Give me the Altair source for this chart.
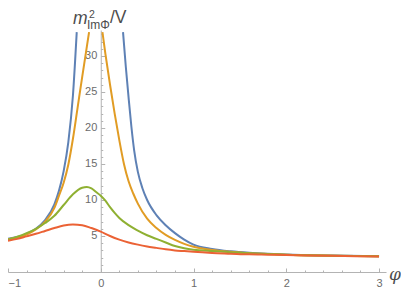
import altair as alt
import pandas as pd

# ---------------- data ----------------
series_names = ["s1", "s2", "s3", "s4"]
series_colors = ["#5E81B5", "#E19C24", "#8FB032", "#EB6235"]

blue_left_x = [-1.0, -0.9, -0.8, -0.7, -0.6, -0.5, -0.45, -0.4, -0.35, -0.3, -0.259]
blue_left_y = [4.6, 4.85, 5.3, 6.0, 7.2, 9.4, 11.3, 14.0, 18.0, 24.5, 33.3]
blue_right_x = [0.24, 0.27, 0.3, 0.33, 0.36, 0.4, 0.45, 0.5, 0.6, 0.7, 0.8, 0.9, 1.0, 1.2, 1.4, 1.6, 1.8, 2.0, 2.5, 3.0]
blue_right_y = [33.3, 28.5, 24.2, 20.2, 16.9, 13.9, 11.6, 10.0, 7.9, 6.5, 5.4, 4.5, 3.8, 3.2, 2.87, 2.66, 2.52, 2.42, 2.28, 2.18]

orange_left_x = [-1.0, -0.9, -0.8, -0.7, -0.6, -0.5, -0.45, -0.4, -0.35, -0.3, -0.25, -0.2, -0.15, -0.126]
orange_left_y = [4.55, 4.8, 5.2, 5.9, 7.0, 8.9, 10.6, 12.4, 14.9, 18.5, 22.8, 27.1, 31.3, 33.3]
orange_right_x = [0.018, 0.05, 0.1, 0.15, 0.2, 0.25, 0.3, 0.35, 0.4, 0.5, 0.6, 0.7, 0.8, 0.9, 1.0, 1.2, 1.4, 1.6, 1.8, 2.0, 2.5, 3.0]
orange_right_y = [33.3, 30.3, 26.0, 22.0, 18.3, 15.0, 12.6, 10.9, 9.5, 7.4, 6.1, 5.15, 4.45, 3.9, 3.5, 3.05, 2.8, 2.62, 2.5, 2.4, 2.27, 2.18]

green_x = [-1.0, -0.9, -0.8, -0.7, -0.6, -0.5, -0.4, -0.3, -0.2, -0.15, -0.1, -0.05, 0.0, 0.05, 0.1, 0.15, 0.2, 0.3, 0.4, 0.5, 0.6, 0.7, 0.8, 0.9, 1.0, 1.2, 1.4, 1.6, 1.8, 2.0, 2.5, 3.0]
green_y = [4.5, 4.9, 5.4, 6.0, 6.8, 7.8, 9.3, 10.8, 11.7, 11.8, 11.6, 11.1, 10.6, 9.9, 9.0, 8.2, 7.5, 6.5, 5.75, 5.1, 4.6, 4.1, 3.6, 3.3, 3.1, 2.9, 2.75, 2.6, 2.5, 2.4, 2.27, 2.18]

red_x = [-1.0, -0.9, -0.8, -0.7, -0.6, -0.5, -0.4, -0.3, -0.2, -0.1, 0.0, 0.1, 0.2, 0.3, 0.4, 0.5, 0.6, 0.7, 0.8, 0.9, 1.0, 1.2, 1.4, 1.6, 1.8, 2.0, 2.5, 3.0]
red_y = [4.35, 4.6, 4.95, 5.3, 5.7, 6.1, 6.45, 6.6, 6.5, 6.1, 5.6, 5.0, 4.5, 4.1, 3.8, 3.55, 3.35, 3.15, 3.0, 2.9, 2.8, 2.65, 2.55, 2.45, 2.4, 2.35, 2.25, 2.15]

x_major = [-1, 0, 1, 2, 3]
x_minor = [-0.8, -0.6, -0.4, -0.2, 0.2, 0.4, 0.6, 0.8, 1.2, 1.4, 1.6, 1.8, 2.2, 2.4, 2.6, 2.8]
y_major = [5, 10, 15, 20, 25, 30]
y_minor = [1, 2, 3, 4, 6, 7, 8, 9, 11, 12, 13, 14, 16, 17, 18, 19, 21, 22, 23, 24, 26, 27, 28, 29, 31, 32, 33]

x_domain = [-1, 3.075]
y_domain = [0, 33.6]

# ---------------- build table ----------------
rows = []
def add(series, seg, xs, ys):
    for i, (a, b) in enumerate(zip(xs, ys)):
        rows.append({"series": series, "seg": seg, "x": a, "y": b, "i": i})

add("s1", "s1a", blue_left_x, blue_left_y)
add("s1", "s1b", blue_right_x, blue_right_y)
add("s2", "s2a", orange_left_x, orange_left_y)
add("s2", "s2b", orange_right_x, orange_right_y)
add("s3", "s3a", green_x, green_y)
add("s4", "s4a", red_x, red_y)
df = pd.DataFrame(rows)

W, H = 378, 242
x0_px = (0 - x_domain[0]) / (x_domain[1] - x_domain[0]) * W  # pixel position of x = 0

axis_color = "#b3b3b3"
label_color = "#6b6b6b"
title_color = "#4d4d4d"
font = "Liberation Sans"

xs = alt.Scale(domain=x_domain, nice=False, zero=False)
ys = alt.Scale(domain=y_domain, nice=False)

base = alt.Chart(df)

lines = base.mark_line(strokeWidth=2, interpolate="monotone").encode(
    x=alt.X("x:Q", scale=xs, axis=alt.Axis(
        orient="bottom", values=x_major, format="d", title=None, grid=False,
        ticks=False, tickSize=0, domain=True, domainColor=axis_color, domainWidth=1,
        labelColor=label_color, labelFont=font, labelFontSize=11, labelPadding=5)),
    y=alt.Y("y:Q", scale=ys, axis=alt.Axis(
        orient="left", offset=-x0_px, values=y_major, format="d", title=None, grid=False,
        ticks=False, tickSize=0, domain=True, domainColor=axis_color, domainWidth=1,
        labelColor=label_color, labelFont=font, labelFontSize=11, labelPadding=4)),
    color=alt.Color("series:N", scale=alt.Scale(domain=series_names, range=series_colors), legend=None),
    detail="seg:N",
    order="i:Q",
)

def tick_layer(xv, yv, size):
    return base.mark_point(opacity=0).encode(
        x=alt.X("x:Q", scale=xs, axis=alt.Axis(
            orient="top", offset=-H, values=xv, labels=False, domain=False, grid=False,
            ticks=True, tickSize=size, tickColor=axis_color, tickWidth=1, title=None)),
        y=alt.Y("y:Q", scale=ys, axis=alt.Axis(
            orient="right", offset=-(W - x0_px), values=yv, labels=False, domain=False, grid=False,
            ticks=True, tickSize=size, tickColor=axis_color, tickWidth=1, title=None)),
    )

major_ticks = tick_layer(x_major, y_major, 4)
minor_ticks = tick_layer(x_minor, y_minor, 2)

one = pd.DataFrame({"k": [0]})
def label(text, x, y, size, italic=False, family=font, align="left", baseline="alphabetic"):
    return alt.Chart(one).mark_text(
        text=text, font=family, fontSize=size, fontStyle="italic" if italic else "normal",
        color=title_color, align=align, baseline=baseline,
    ).encode(x=alt.value(x), y=alt.value(y))

title_m = label("m", 65, -6.5, 17.5, italic=True)
title_sup = label("2", 81, -12.5, 10.5)
title_sub = label("Im\u03a6", 79, -1, 12)
title_rest = label("/V", 102, -6.8, 17.5)
phi = label("\u03c6", 387, 245, 17, italic=True, family="DejaVu Serif", align="center", baseline="middle")

chart = alt.layer(
    major_ticks, minor_ticks, lines, title_m, title_sup, title_sub, title_rest, phi
).resolve_axis(x="independent", y="independent").properties(
    width=W, height=H,
    autosize=alt.AutoSizeParams(type="none"),
    padding={"left": 0, "top": 22, "right": 15, "bottom": 18},
    background="white",
).configure_view(stroke=None)

chart.save("out.html", embed_options={"renderer": "svg", "actions": False})
